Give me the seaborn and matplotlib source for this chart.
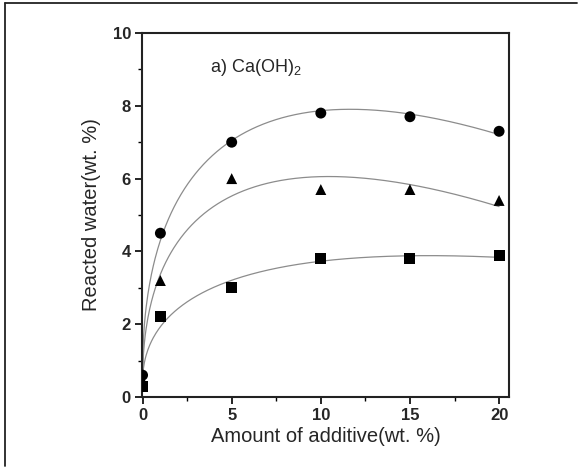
import numpy as np
import pandas as pd
import matplotlib
matplotlib.use("Agg")
import matplotlib.pyplot as plt
from matplotlib.lines import Line2D
from matplotlib.ticker import MultipleLocator
import seaborn as sns

# ---- data ----
additive = [0, 1, 5, 10, 15, 20]
series_circle = [0.6, 4.5, 7.0, 7.8, 7.7, 7.3]
series_triangle = [0.45, 3.2, 6.0, 5.7, 5.7, 5.4]
series_square = [0.3, 2.2, 3.0, 3.8, 3.8, 3.9]
series_names = ["circle", "triangle", "square"]
x_ticks = [0, 5, 10, 15, 20]
y_ticks = [0, 2, 4, 6, 8, 10]
annotation = "a) Ca(OH)$_2$"
x_label = "Amount of additive(wt. %)"
y_label = "Reacted water(wt. %)"

sns.set_style("ticks")
plt.rcParams["font.family"] = ["Liberation Sans", "DejaVu Sans"]
plt.rcParams["mathtext.fontset"] = "custom"
plt.rcParams["mathtext.rm"] = "Liberation Sans"

df = pd.DataFrame({
    "x": additive * 3,
    "y": series_circle + series_triangle + series_square,
    "s": np.repeat(series_names, len(additive)),
})


def fit_curve(x, y):
    """Least squares fit of y = a + b*sqrt(x) + c*x."""
    x = np.asarray(x, float)
    y = np.asarray(y, float)
    A = np.column_stack([np.ones_like(x), np.sqrt(x), x])
    coef, *_ = np.linalg.lstsq(A, y, rcond=None)
    xs = np.linspace(0, 20, 400)
    ys = coef[0] + coef[1] * np.sqrt(xs) + coef[2] * xs
    return xs, ys


fits = []
for name, ys in zip(series_names, [series_circle, series_triangle, series_square]):
    xs, yf = fit_curve(additive, ys)
    fits.append(pd.DataFrame({"x": xs, "y": yf, "s": name}))
fit_df = pd.concat(fits, ignore_index=True)

fig = plt.figure(figsize=(5.79, 4.67), dpi=100)
ax = fig.add_axes([0.2453, 0.1499, 0.6339, 0.7794])

sns.lineplot(data=fit_df, x="x", y="y", hue="s", palette=["#8c8c8c"] * 3,
             linewidth=0.9, legend=False, ax=ax, sort=False, estimator=None)
sns.scatterplot(data=df, x="x", y="y", style="s",
                markers={"circle": "o", "triangle": "^", "square": "s"},
                color="black", s=62, edgecolor="black", linewidth=0,
                legend=False, ax=ax, zorder=3)

ax.set_xlim(-0.03, 20.56)
ax.set_ylim(0, 10)
ax.set_xticks(x_ticks)
ax.set_yticks(y_ticks)
ax.xaxis.set_minor_locator(MultipleLocator(2.5))
ax.yaxis.set_minor_locator(MultipleLocator(1))
ax.tick_params(which="major", direction="out", length=5, width=1.2,
               labelsize=12, color="black", pad=3)
ax.tick_params(which="minor", direction="out", length=3, width=1.0, color="black")
for lab in ax.get_xticklabels() + ax.get_yticklabels():
    lab.set_fontweight("bold")
for sp in ax.spines.values():
    sp.set_visible(True)
    sp.set_linewidth(1.5)
    sp.set_color("#222222")

ax.set_xlabel(x_label, fontsize=14.5, labelpad=3)
ax.set_ylabel(y_label, fontsize=14.5, labelpad=8)
ax.text(3.76, 9.04, annotation, fontsize=13, va="center", ha="left")

# outer figure frame (top and left edges only)
fig.add_artist(Line2D([5 / 579, 577 / 579], [1 - 3 / 467, 1 - 3 / 467],
                      transform=fig.transFigure, color="#222222", linewidth=1.3))
fig.add_artist(Line2D([5 / 579, 5 / 579], [1 - 3 / 467, 1 - 466 / 467],
                      transform=fig.transFigure, color="#222222", linewidth=1.3))

fig.savefig("out.png", dpi=100)
